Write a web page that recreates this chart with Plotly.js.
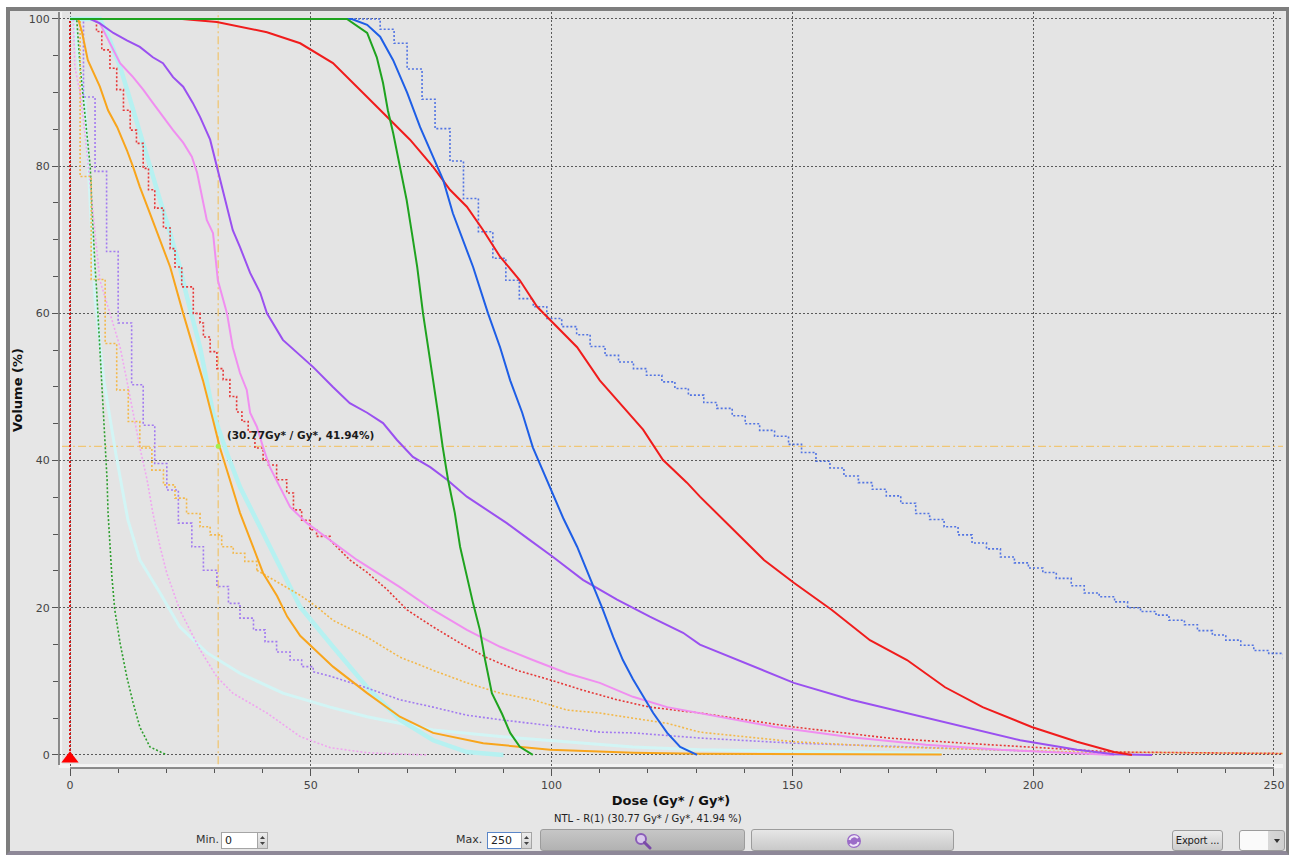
<!DOCTYPE html>
<html>
<head>
<meta charset="utf-8">
<script src="https://cdn.plot.ly/plotly-3.0.1.min.js"></script>
<style>
html,body{margin:0;padding:0;background:#fff;width:1289px;height:855px;overflow:hidden;font-family:"DejaVu Sans",sans-serif;}
#frame{position:absolute;left:6px;top:7px;width:1283px;height:848px;box-sizing:border-box;border:4px solid #7e7e7e;border-bottom-color:#8e8898;border-right-width:3px;background:#e6e6e6;}
#chart{position:absolute;left:0;top:0;width:1289px;height:855px;}
.lbl{position:absolute;font-size:11px;color:#333;line-height:16px;}
.inp{position:absolute;box-sizing:border-box;height:17px;background:#fff;border:1px solid #a5a5a5;font-size:11px;line-height:15px;padding-left:3px;color:#222;}
.spin{position:absolute;box-sizing:border-box;width:11px;height:17px;border:1px solid #a5a5a5;background:linear-gradient(#eeeeee,#d2d2d2);}
.spin svg{position:absolute;left:0;top:0;}
.btn{position:absolute;box-sizing:border-box;border:1px solid #9c9c9c;border-radius:3px;}
.btn svg{position:absolute;}
</style>
</head>
<body>
<div id="frame"></div>
<div id="chart"></div>

<div class="lbl" style="left:196px;top:832px;">Min.</div>
<div class="inp" style="left:221px;top:832px;width:37px;">0</div>
<div class="spin" style="left:257px;top:832px;"><svg width="9" height="15"><polygon points="2,6 7,6 4.5,3" fill="#444"/><polygon points="2,9 7,9 4.5,12" fill="#444"/></svg></div>

<div class="lbl" style="left:456px;top:832px;">Max.</div>
<div class="inp" style="left:487px;top:832px;width:35px;border-color:#5a86c8;">250</div>
<div class="spin" style="left:521px;top:832px;"><svg width="9" height="15"><polygon points="2,6 7,6 4.5,3" fill="#444"/><polygon points="2,9 7,9 4.5,12" fill="#444"/></svg></div>

<div class="btn" style="left:540px;top:829px;width:205px;height:22px;background:linear-gradient(#c6c6c6,#b2b2b2);">
  <svg style="left:92px;top:2px;" width="20" height="18"><circle cx="8" cy="7" r="5" fill="#d9c8ec" stroke="#8a5cb8" stroke-width="2"/><line x1="11.5" y1="10.5" x2="17" y2="16" stroke="#7a4aa8" stroke-width="3" stroke-linecap="round"/></svg>
</div>
<div class="btn" style="left:751px;top:829px;width:203px;height:22px;background:linear-gradient(#e6e6e6,#c9c9c9);">
  <svg style="left:93px;top:2px;" width="18" height="18"><circle cx="9" cy="9" r="7" fill="#9b6cc8"/><path d="M4.5 8 A4.8 4.8 0 0 1 13 6.2" stroke="#efe6f7" stroke-width="2" fill="none"/><path d="M13.5 10 A4.8 4.8 0 0 1 5 11.8" stroke="#efe6f7" stroke-width="2" fill="none"/></svg>
</div>
<div class="btn" style="left:1172px;top:830px;width:51px;height:21px;background:linear-gradient(#ececec,#cdcdcd);font-size:10px;line-height:19px;color:#222;text-align:center;white-space:nowrap;overflow:visible;letter-spacing:-0.2px;">Export ...</div>
<div class="btn" style="left:1239px;top:830px;width:46px;height:21px;background:linear-gradient(90deg,#fafafa 0,#fafafa 64%,#d8d8d8 64%,#cfcfcf 100%);">
  <svg style="left:33px;top:7px;" width="8" height="6"><polygon points="1,1 7,1 4,5" fill="#333"/></svg>
</div>

<script>
// ---------- axis ticks ----------
const DOSE_TICKS = [0, 50, 100, 150, 200, 250];
const VOLUME_TICKS = [0, 20, 40, 60, 80, 100];

// ---------- cursor readout ----------
const CURSOR_DOSE = 30.77;
const CURSOR_VOLUME = 41.94;
const CURSOR_LABEL = "(30.77Gy* / Gy*, 41.94%)";
const STATUS_TEXT = "NTL - R(1) (30.77 Gy* / Gy*, 41.94 %)";
const X_TITLE = "Dose (Gy* / Gy*)";
const Y_TITLE = "Volume (%)";

// ---------- DVH series (dose Gy*, volume %) ----------
const refLineDose = [0, 0];
const refLineVol  = [0, 100];
const refMarkerDose = [0];
const refMarkerVol  = [-0.5];

const greenDose = [0, 57.5, 61.7, 63.7, 65.0, 66.0, 67.1, 68.5, 69.9, 71.0, 72.1, 73.3, 74.3, 75.4, 76.4, 77.4, 78.5, 79.9, 81.0, 82.4, 83.7, 85.1, 86.2, 87.6, 89.7, 91.4, 93.4, 96.1];
const greenVol  = [100, 100, 98.1, 94.8, 91.3, 87.6, 84.5, 80.0, 75.4, 70.9, 66.3, 60.0, 55.4, 50.9, 46.5, 41.8, 37.4, 32.9, 28.3, 24.2, 20.6, 17.0, 12.9, 8.4, 5.6, 3.0, 1.1, 0];

const blueDose = [0, 58.5, 61.7, 64.4, 67.1, 70.0, 72.7, 75.4, 77.5, 79.5, 81.6, 83.7, 86.8, 89.3, 91.4, 93.9, 96.1, 98.0, 100.1, 102.4, 105.3, 108.6, 110.5, 112.8, 114.8, 116.9, 119.0, 121.1, 124.0, 126.7, 130.2];
const blueVol  = [100, 100, 99.2, 97.6, 94.4, 90.0, 85.3, 81.2, 78.1, 73.6, 70.0, 66.3, 60.0, 55.4, 50.9, 46.5, 41.8, 38.9, 35.9, 32.2, 28.3, 23.2, 20.0, 16.0, 12.9, 10.3, 7.9, 5.7, 3.0, 1.1, 0];

const redDose = [0, 23.3, 30.5, 40.9, 47.8, 54.6, 61.7, 66.4, 70.6, 75.4, 78.9, 82.4, 85.8, 89.3, 93.4, 97.0, 100.3, 105.3, 110.0, 114.8, 119.0, 123.1, 128.1, 130.8, 144.1, 150.3, 158.2, 166.1, 173.8, 181.7, 189.5, 199.7, 209.1, 216.8, 220.5];
const redVol  = [100, 100, 99.6, 98.2, 96.7, 94.0, 89.4, 86.3, 83.6, 79.9, 76.8, 74.5, 71.3, 67.7, 64.5, 60.9, 58.7, 55.4, 50.9, 47.3, 44.2, 40.1, 37.0, 35.1, 26.5, 23.4, 19.7, 15.6, 12.9, 9.2, 6.5, 3.8, 1.8, 0.4, 0];

const purpleDose = [0, 4.2, 6.2, 9.0, 11.8, 14.5, 17.2, 19.3, 21.4, 23.5, 25.5, 27.0, 29.1, 30.5, 31.6, 32.6, 33.8, 35.3, 37.4, 39.5, 40.9, 44.2, 47.8, 50.5, 54.6, 58.1, 61.7, 65.0, 67.9, 71.2, 74.8, 78.3, 82.4, 86.6, 90.7, 95.5, 100.3, 106.5, 113.6, 120.4, 127.3, 130.8, 138.7, 150.3, 162.2, 173.8, 185.6, 197.3, 209.1, 216.8, 224.7];
const purpleVol  = [100, 100, 99.4, 98.1, 97.1, 96.2, 94.8, 94.0, 92.1, 90.8, 88.6, 86.7, 83.6, 79.9, 77.2, 74.5, 71.3, 69.0, 65.5, 62.8, 60.0, 56.4, 54.3, 52.7, 50.0, 47.8, 46.5, 45.1, 42.8, 40.5, 39.1, 37.4, 35.1, 33.3, 31.5, 29.2, 26.9, 23.8, 21.1, 18.8, 16.6, 15.0, 12.9, 9.8, 7.5, 5.7, 3.8, 2.0, 0.7, 0.1, 0];

const pinkDose = [0, 4.8, 6.2, 8.3, 10.4, 13.1, 15.2, 17.2, 19.3, 21.4, 23.5, 25.3, 26.4, 27.6, 28.4, 29.7, 30.7, 32.6, 33.8, 35.3, 36.7, 37.4, 38.8, 40.1, 41.5, 43.6, 45.7, 49.2, 54.0, 59.6, 68.5, 75.4, 82.4, 89.3, 96.1, 103.2, 110.0, 116.9, 124.0, 130.8, 146.4, 162.2, 177.7, 193.3, 209.1, 216.8];
const pinkVol  = [100, 100, 99.4, 96.7, 94.0, 92.1, 90.4, 88.6, 86.7, 84.9, 83.2, 81.3, 79.1, 75.4, 72.7, 70.9, 64.5, 60.0, 55.4, 51.9, 49.6, 46.5, 44.6, 41.8, 39.1, 36.4, 33.7, 31.5, 29.2, 26.5, 22.8, 19.7, 17.0, 14.7, 12.9, 11.1, 9.8, 7.9, 6.5, 5.7, 3.8, 2.4, 1.4, 0.7, 0.27, 0];

const orangeDose = [0, 1.7, 2.5, 3.7, 6.2, 7.9, 9.8, 11.8, 13.1, 14.5, 16.6, 18.7, 20.8, 23.5, 25.5, 27.6, 29.7, 31.1, 33.2, 35.3, 38.0, 40.1, 43.0, 45.1, 47.8, 51.3, 54.6, 61.7, 68.5, 75.4, 85.8, 99.7, 117.0, 130.8, 181.0];
const orangeVol  = [100, 100, 98.2, 94.4, 90.8, 87.6, 85.3, 82.2, 79.9, 77.2, 73.6, 70.0, 66.3, 60.0, 55.4, 50.9, 45.5, 41.8, 37.4, 32.9, 28.3, 24.7, 21.6, 18.8, 16.2, 14.0, 12.0, 8.4, 5.2, 3.0, 1.6, 0.7, 0.3, 0.15, 0.05];

const cyanDose = [0, 6.2, 8.3, 10.4, 12.5, 14.5, 16.6, 18.7, 20.8, 22.8, 24.3, 27.0, 29.7, 32.6, 35.3, 39.5, 44.2, 47.8, 54.6, 61.7, 68.5, 75.4, 82.4, 90.0];
const cyanVol  = [100, 100, 97.1, 93.5, 89.0, 84.5, 79.9, 75.4, 70.9, 66.3, 62.2, 55.4, 46.5, 41.0, 36.4, 31.0, 24.7, 20.1, 14.7, 9.2, 4.8, 2.0, 0.4, 0];

const paleCyanDose = [0, 0.8, 2.0, 3.1, 3.8, 4.5, 5.2, 7.0, 9.5, 12.0, 14.5, 18.7, 22.8, 28.4, 35.3, 44.2, 54.0, 61.7, 75.4, 89.3, 103.2, 116.9, 130.8, 181.0];
const paleCyanVol  = [100, 100, 93, 89, 80, 71, 62, 51, 41, 32, 26.5, 22.0, 17.4, 13.9, 11.1, 8.4, 6.5, 5.2, 3.4, 2.5, 1.8, 1.1, 0.7, 0.2];

const blueDotDose = [0, 64.4, 67.3, 70.0, 73.1, 75.8, 78.9, 81.7, 84.8, 87.8, 90.5, 93.3, 96.2, 99.0, 102.1, 105.2, 108.0, 111.1, 113.9, 117.0, 119.7, 122.9, 125.6, 128.4, 131.6, 134.3, 137.5, 140.2, 143.2, 146.3, 149.2, 151.9, 154.9, 157.8, 160.7, 163.7, 166.6, 169.5, 172.5, 175.6, 178.5, 181.5, 184.4, 187.3, 190.3, 193.2, 196.1, 199.0, 202.0, 204.8, 207.9, 210.6, 213.7, 216.9, 219.6, 222.3, 225.5, 228.2, 231.4, 234.1, 237.2, 240.0, 243.1, 245.8, 248.9, 252.0];
const blueDotVol  = [100, 98.6, 96.7, 93.2, 89.1, 85.1, 80.7, 75.6, 71.1, 67.5, 64.5, 62.0, 60.9, 59.3, 58.2, 57.1, 55.5, 54.3, 53.4, 52.5, 51.6, 50.7, 49.8, 48.9, 47.9, 47.1, 46.1, 45.0, 44.1, 43.3, 42.2, 41.1, 39.9, 39.0, 37.9, 37.0, 36.1, 35.2, 34.2, 32.8, 32.0, 31.0, 29.9, 28.8, 28.0, 26.9, 26.1, 25.4, 24.8, 24.0, 23.0, 22.0, 21.5, 20.8, 20.0, 19.5, 19.0, 18.3, 17.7, 16.9, 16.3, 15.6, 14.9, 14.2, 13.8, 12.9];

const redDotStepDose = [0, 5.5, 6.6, 8.3, 9.7, 11.1, 12.5, 13.8, 15.2, 16.3, 17.6, 19.4, 20.8, 21.8, 23.2, 25.6, 27.0, 27.7, 29.1, 30.5, 31.8, 33.2, 34.6, 35.7, 37.0, 38.4, 40.1, 41.2, 42.9, 45.0, 46.4, 48.1, 49.8, 51.2, 54.0];
const redDotStepVol  = [100, 98.3, 95.8, 93.3, 90.4, 87.6, 84.9, 83.1, 79.7, 76.8, 74.3, 71.6, 68.8, 66.3, 63.6, 60.0, 58.7, 56.8, 54.8, 52.5, 51.0, 48.7, 46.6, 45.3, 43.9, 41.7, 40.1, 39.4, 37.4, 35.6, 33.3, 31.9, 30.6, 29.7, 29.2];
const redDotTailDose = [54.0, 58.1, 61.7, 65.8, 70.0, 75.4, 81.0, 86.6, 92.8, 99.7, 106.5, 113.6, 120.4, 130.8, 150.3, 169.9, 185.6, 201.2, 216.8, 252.0];
const redDotTailVol  = [29.2, 26.5, 24.8, 22.5, 19.7, 17.4, 15.2, 13.2, 11.5, 10.2, 8.8, 7.5, 6.5, 5.7, 3.8, 2.3, 1.6, 1.0, 0.4, 0.2];

const orangeDotStepDose = [0, 2.1, 4.4, 7.3, 9.7, 12.1, 14.5, 17.0, 19.4, 21.8, 24.2, 27.0, 29.1, 31.5, 33.9, 36.3, 38.8];
const orangeDotStepVol  = [100, 78.6, 64.6, 55.9, 49.6, 45.3, 41.7, 38.7, 36.7, 34.9, 32.8, 31.0, 29.9, 28.3, 27.4, 26.3, 25.1];
const orangeDotTailDose = [38.8, 47.8, 51.3, 54.6, 61.7, 68.5, 75.4, 82.4, 89.3, 96.1, 103.2, 110.0, 116.9, 124.0, 130.8, 150.3, 169.9, 193.3, 209.1, 232.6, 252.0];
const orangeDotTailVol  = [25.1, 21.7, 20.1, 18.3, 16.0, 13.3, 11.5, 9.8, 8.4, 7.5, 6.1, 5.7, 5.0, 4.3, 3.1, 1.8, 1.1, 0.7, 0.4, 0.3, 0.2];

const purpleDotStepDose = [0, 2.8, 5.2, 7.6, 10.0, 12.8, 15.2, 17.6, 20.1, 22.5, 25.3, 27.7, 30.5, 32.9, 35.3, 38.1, 40.5, 42.9, 45.7, 48.1, 50.5];
const purpleDotStepVol  = [100, 89.4, 79.3, 68.4, 58.7, 50.3, 44.8, 39.6, 36.0, 31.5, 28.3, 25.1, 22.9, 20.6, 18.6, 17.0, 15.4, 14.0, 12.9, 12.0, 11.3];
const purpleDotTailDose = [50.5, 54.6, 61.7, 68.5, 75.4, 82.4, 89.3, 96.1, 103.2, 110.0, 116.9, 130.8, 150.3, 169.9, 193.3, 209.1, 216.8];
const purpleDotTailVol  = [11.3, 10.6, 9.1, 7.5, 6.5, 5.4, 4.8, 4.3, 3.7, 3.1, 3.0, 2.3, 1.6, 1.2, 0.7, 0.3, 0];

const pinkDotDose = [0, 0.7, 1.0, 2.1, 3.1, 3.8, 4.5, 5.2, 5.8, 6.2, 8.3, 10.4, 11.8, 13.1, 14.5, 16.0, 17.2, 18.7, 20.1, 22.8, 27.0, 30.5, 33.8, 40.9, 47.8, 54.0, 61.7, 74.0];
const pinkDotVol  = [100, 100, 93.5, 89.9, 84.5, 79.9, 75.4, 70.9, 66.3, 64.5, 60.0, 55.4, 50.9, 46.5, 41.8, 37.4, 32.9, 28.3, 24.7, 19.7, 14.3, 10.6, 8.4, 5.7, 2.5, 1.0, 0.3, 0];

const greenDotDose = [0, 1.4, 2.1, 2.8, 3.5, 4.2, 4.5, 4.8, 5.2, 5.5, 5.8, 6.2, 6.6, 6.9, 7.3, 7.7, 7.9, 8.3, 8.7, 9.3, 10.4, 11.8, 13.1, 14.5, 16.6, 20.1];
const greenDotVol  = [100, 100, 93.5, 89.0, 84.5, 79.9, 75.4, 70.9, 66.3, 63.5, 60.0, 55.4, 50.9, 46.5, 41.8, 37.4, 32.9, 28.3, 24.2, 19.7, 15.2, 10.6, 7.1, 3.8, 1.1, 0];

// ---------- build traces ----------
const DOT = "2px,2px";
function line(x, y, color, width, dash, shape) {
  return {type: "scatter", mode: "lines", x: x, y: y, hoverinfo: "skip", showlegend: false,
          line: {color: color, width: width, dash: dash || "solid", shape: shape || "linear"}};
}

const traces = [
  line(paleCyanDose, paleCyanVol, "#d2f5f5", 3),
  line(cyanDose, cyanVol, "#b6f1f1", 4.5),
  line(greenDotDose, greenDotVol, "#2e9e2e", 1.6, DOT),
  line(pinkDotDose, pinkDotVol, "#f0a6f0", 1.6, DOT),
  line(purpleDotStepDose, purpleDotStepVol, "#a27af0", 1.6, DOT, "hv"),
  line(purpleDotTailDose, purpleDotTailVol, "#a27af0", 1.6, DOT),
  line(orangeDotStepDose, orangeDotStepVol, "#f3b84a", 1.6, DOT, "hv"),
  line(orangeDotTailDose, orangeDotTailVol, "#f3b84a", 1.6, DOT),
  line(redDotStepDose, redDotStepVol, "#e63838", 1.6, DOT, "hv"),
  line(redDotTailDose, redDotTailVol, "#e63838", 1.6, DOT),
  line(blueDotDose, blueDotVol, "#5274e2", 1.6, DOT, "hv"),
  line(pinkDose, pinkVol, "#f08ef0", 2),
  line(orangeDose, orangeVol, "#f8a51c", 2),
  line(purpleDose, purpleVol, "#9a50f0", 2),
  line(redDose, redVol, "#f01c1c", 2),
  line(blueDose, blueVol, "#1e5ee6", 2),
  line(greenDose, greenVol, "#1fa31f", 2),
  line(refLineDose, refLineVol, "#d81818", 2, DOT),
  {type: "scatter", mode: "markers", x: refMarkerDose, y: refMarkerVol, hoverinfo: "skip", showlegend: false,
   cliponaxis: false, marker: {symbol: "triangle-up", size: 15, color: "#ff0000"}},
  {type: "scatter", mode: "markers", x: [CURSOR_DOSE], y: [CURSOR_VOLUME], hoverinfo: "skip", showlegend: false,
   marker: {symbol: "circle", size: 5, color: "#a6f04a"}}
];

const FONT = "DejaVu Sans, sans-serif";
const layout = {
  width: 1289, height: 855,
  margin: {l: 59, r: 6, t: 12, b: 87, pad: 0},
  paper_bgcolor: "rgba(0,0,0,0)",
  plot_bgcolor: "#f3f3f3",
  showlegend: false,
  font: {family: FONT, size: 11, color: "#444"},
  xaxis: {
    range: [-2.284, 251.87], tickvals: DOSE_TICKS, ticktext: DOSE_TICKS.map(String),
    ticks: "outside", ticklen: 7, tickwidth: 1, tickcolor: "#555",
    minor: {dtick: 10, tick0: 0, ticks: "outside", ticklen: 4, tickcolor: "#555", showgrid: false},
    showgrid: true, gridcolor: "#5a5a5a", gridwidth: 1, griddash: "2px,2px",
    zeroline: false, showline: false, fixedrange: true,
    tickfont: {family: FONT, size: 11, color: "#444"},
    title: {text: X_TITLE, font: {family: FONT, size: 13, color: "#111", weight: 700}, standoff: 4}
  },
  yaxis: {
    range: [-1.77, 100.95], tickvals: VOLUME_TICKS, ticktext: VOLUME_TICKS.map(String),
    ticks: "outside", ticklen: 6, tickwidth: 1, tickcolor: "#555",
    minor: {dtick: 5, tick0: 0, ticks: "outside", ticklen: 5, tickcolor: "#555", showgrid: false},
    showgrid: true, gridcolor: "#5a5a5a", gridwidth: 1, griddash: "2px,2px",
    zeroline: false, showline: false, fixedrange: true,
    tickfont: {family: FONT, size: 11, color: "#444"},
    title: {text: Y_TITLE, font: {family: FONT, size: 13, color: "#111", weight: 700}, standoff: 3}
  },
  shapes: [
    {type: "rect", xref: "paper", yref: "paper", x0: 0.0025, x1: 1, y0: 0.0053, y1: 1,
     fillcolor: "#e4e4e4", line: {width: 0}, layer: "below"},
    {type: "line", xref: "paper", yref: "paper", x0: 0, x1: 0, y0: 0.004, y1: 1,
     line: {color: "#6a6a6a", width: 1.5}, layer: "above"},
    {type: "line", xref: "x", yref: "paper", x0: DOSE_TICKS[0], x1: DOSE_TICKS[DOSE_TICKS.length - 1], y0: 0, y1: 0,
     line: {color: "#6a6a6a", width: 1.5}, layer: "above"},
    {type: "line", xref: "x", yref: "paper", x0: CURSOR_DOSE, x1: CURSOR_DOSE, y0: 0.005, y1: 1,
     line: {color: "#f0c675", width: 1.3, dash: "8px,3px,2px,3px"}, layer: "between"},
    {type: "line", xref: "paper", yref: "y", x0: 0.0025, x1: 1, y0: CURSOR_VOLUME, y1: CURSOR_VOLUME,
     line: {color: "#f0c675", width: 1.3, dash: "8px,3px,2px,3px"}, layer: "between"}
  ],
  annotations: [
    {x: CURSOR_DOSE, y: CURSOR_VOLUME, xref: "x", yref: "y", text: CURSOR_LABEL, showarrow: false,
     xanchor: "left", yanchor: "middle", xshift: 7, yshift: 11,
     font: {family: FONT, size: 10.5, color: "#1a1a1a", weight: 700}},
    {x: 0.481, y: 0, xref: "paper", yref: "paper", text: STATUS_TEXT, showarrow: false,
     xanchor: "center", yanchor: "middle", yshift: -50,
     font: {family: FONT, size: 10, color: "#222"}}
  ]
};

Plotly.newPlot("chart", traces, layout, {displayModeBar: false, staticPlot: true});
</script>
</body>
</html>
